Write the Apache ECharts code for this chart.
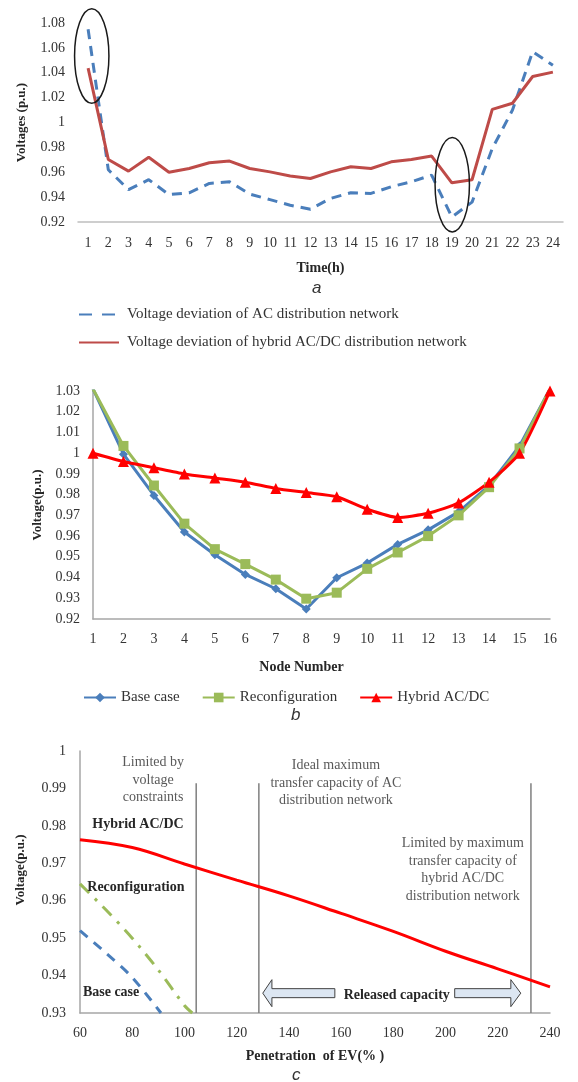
<!DOCTYPE html>
<html><head><meta charset="utf-8">
<script src="https://cdn.jsdelivr.net/npm/echarts@6/dist/echarts.min.js"></script>
<style>html,body{margin:0;padding:0;background:#fff}#c{width:578px;height:1082px}</style>
</head><body><div id="c"></div>
<script>
// ---------- Chart a ----------
const hours = ['1','2','3','4','5','6','7','8','9','10','11','12','13','14','15','16','17','18','19','20','21','22','23','24'];
const acDeviation = [1.075,0.962,0.946,0.954,0.942,0.9435,0.951,0.9523,0.9424,0.938,0.9335,0.9303,0.939,0.9435,0.943,0.9484,0.9523,0.9577,0.924,0.936,0.979,1.010,1.057,1.046];
const hybridDeviation = [1.0437,0.9703,0.9609,0.972,0.960,0.963,0.9676,0.969,0.963,0.9603,0.957,0.955,0.9603,0.9644,0.963,0.9684,0.9703,0.973,0.9515,0.954,1.0106,1.0155,1.037,1.0405];
const highlightIdx = [0, 18];
const highlightCenter = [1.0535, 0.950];
const highlightHalfHeight = [0.038, 0.038];
const highlightShift = [0.18, 0.02];

// ---------- Chart b ----------
const nodes = ['1','2','3','4','5','6','7','8','9','10','11','12','13','14','15','16'];
const baseCase = [1.031,0.9995,0.9796,0.962,0.951,0.9415,0.9346,0.9248,0.9399,0.947,0.956,0.963,0.9717,0.9844,1.0035,1.031];
const reconfiguration = [1.031,1.0035,0.9844,0.966,0.9537,0.9465,0.939,0.9298,0.9327,0.9442,0.9521,0.960,0.970,0.9836,1.0023,1.031];
const hybridB = [1.000,0.996,0.993,0.990,0.988,0.986,0.983,0.981,0.979,0.973,0.969,0.971,0.976,0.986,1.000,1.030];

// ---------- Chart c ----------
const hybridC = [[60,0.9763],[80,0.9742],[100,0.9698],[120,0.9655],[140,0.9613],[160,0.9566],[180,0.9518],[200,0.9465],[220,0.9418],[240,0.937]];
const reconfigC = [[60,0.9645],[70,0.9575],[80,0.9500],[90,0.9415],[100,0.932],[103,0.930]];
const baseC = [[60,0.952],[70,0.946],[80,0.9395],[91,0.930]];
const limitLinesX = [104.5, 128.5, 232.7];
const limitLineTop = 0.9914;
const noteText = ['Limited by\nvoltage\nconstraints','Ideal maximum\ntransfer capacity of AC\ndistribution network','Limited by maximum\ntransfer capacity of\nhybrid AC/DC\ndistribution network','Hybrid AC/DC','Reconfiguration','Base case','Released capacity'];
const noteX = [88, 158, 206.6, 82.2, 81.4, 71.9, 181.3];
const noteY = [0.9922, 0.9914, 0.9682, 0.9804, 0.9636, 0.9356, 0.9348];
const noteBold = [0,0,0,1,1,1,1];
const arrowTip = [130.0, 228.8];
const arrowHead = [133.5, 225.0];
const arrowTail = [157.6, 203.5];
const arrowY = [0.9353, 0.9353];

const SERIF = '"Liberation Serif", "Times New Roman", serif';
const fmt = v => String(+v.toFixed(2));
const lblColor = '#333333';

const chart = echarts.init(document.getElementById('c'), null, {renderer:'canvas'});

function axisNameStyle(size){ return {fontFamily:SERIF, fontWeight:'bold', fontSize:size, color:'#262626'}; }

const option = {
  animation:false,
  backgroundColor:'#fff',
  grid:[
    {left:78, top:23, width:485, height:199},
    {left:93, top:391, width:457, height:228},
    {left:80, top:751, width:470, height:262}
  ],
  xAxis:[
    {gridIndex:0, type:'category', data:hours, boundaryGap:true,
     axisLine:{lineStyle:{color:'#bfbfbf', width:1.5}}, axisTick:{show:false},
     axisLabel:{interval:0, margin:14, fontSize:14, fontFamily:SERIF, color:lblColor},
     name:'Time(h)', nameLocation:'middle', nameGap:39, nameTextStyle:axisNameStyle(14)},
    {gridIndex:1, type:'category', data:nodes, boundaryGap:false,
     axisLine:{lineStyle:{color:'#a6a6a6', width:1.5}}, axisTick:{show:false},
     axisLabel:{interval:0, margin:13, fontSize:14, fontFamily:SERIF, color:lblColor},
     name:'Node Number', nameLocation:'middle', nameGap:41,
     nameTextStyle:Object.assign(axisNameStyle(14), {padding:[0,40,0,0]})},
    {gridIndex:2, type:'value', min:60, max:240, interval:20,
     axisLine:{show:true, lineStyle:{color:'#a6a6a6', width:1.5}}, axisTick:{show:false}, splitLine:{show:false},
     axisLabel:{margin:13, fontSize:14, fontFamily:SERIF, color:lblColor},
     name:'Penetration  of EV(% )', nameLocation:'middle', nameGap:36, nameTextStyle:axisNameStyle(14)}
  ],
  yAxis:[
    {gridIndex:0, type:'value', min:0.92, max:1.08, interval:0.02,
     axisLine:{show:false}, axisTick:{show:false}, splitLine:{show:false},
     axisLabel:{margin:13, fontSize:14, fontFamily:SERIF, color:lblColor, formatter:fmt},
     name:'Voltages (p.u.)', nameLocation:'middle', nameGap:50, nameTextStyle:axisNameStyle(13)},
    {gridIndex:1, type:'value', min:0.92, max:1.03, interval:0.01,
     axisLine:{show:true, lineStyle:{color:'#a6a6a6', width:1.5}}, axisTick:{show:false}, splitLine:{show:false},
     axisLabel:{margin:13, fontSize:14, fontFamily:SERIF, color:lblColor, formatter:fmt},
     name:'Voltage(p.u.)', nameLocation:'middle', nameGap:48, nameTextStyle:axisNameStyle(13)},
    {gridIndex:2, type:'value', min:0.93, max:1, interval:0.01,
     axisLine:{show:true, lineStyle:{color:'#a6a6a6', width:1.5}}, axisTick:{show:false}, splitLine:{show:false},
     axisLabel:{margin:14, fontSize:14, fontFamily:SERIF, color:lblColor, formatter:fmt},
     name:'Voltage(p.u.)', nameLocation:'middle', nameGap:53,
     nameTextStyle:Object.assign(axisNameStyle(13), {padding:[0,0,0,24]})}
  ],
  legend:[
    {orient:'vertical', left:73, top:302, itemWidth:40, itemHeight:14, itemGap:13,
     itemStyle:{opacity:0},
     data:[
       {name:'Voltage deviation of AC distribution network', lineStyle:{type:[13,10]}},
       {name:'Voltage deviation of hybrid AC/DC distribution network', lineStyle:{type:'solid'}}
     ],
     textStyle:{fontFamily:SERIF, fontSize:15, color:lblColor, padding:[0,0,0,3]}},
    {orient:'horizontal', left:78, top:685, itemWidth:32, itemHeight:12, itemGap:22,
     data:['Base case','Reconfiguration','Hybrid AC/DC'],
     textStyle:{fontFamily:SERIF, fontSize:15, color:lblColor}}
  ],
  graphic:[
    {type:'text', left:312, top:280, style:{text:'a', font:'italic 17px "Liberation Sans", Arial, sans-serif', fill:'#333'}},
    {type:'text', left:291, top:707, style:{text:'b', font:'italic 17px "Liberation Sans", Arial, sans-serif', fill:'#333'}},
    {type:'text', left:292, top:1067, style:{text:'c', font:'italic 17px "Liberation Sans", Arial, sans-serif', fill:'#333'}}
  ],
  series:[
    // chart a
    {name:'Voltage deviation of AC distribution network', type:'line', xAxisIndex:0, yAxisIndex:0, data:acDeviation,
     symbol:'none', lineStyle:{color:'#4a7ebb', width:3, type:[10,7]}, itemStyle:{color:'#4a7ebb'}},
    {name:'Voltage deviation of hybrid AC/DC distribution network', type:'line', xAxisIndex:0, yAxisIndex:0, data:hybridDeviation,
     symbol:'none', lineStyle:{color:'#be4b48', width:3}, itemStyle:{color:'#be4b48'}},
    {type:'custom', xAxisIndex:0, yAxisIndex:0, silent:true, z:5,
     data:highlightIdx.map((d,i)=>[d, highlightCenter[i], highlightHalfHeight[i], highlightShift[i]]),
     renderItem:(p, api)=>{
       const c = api.coord([api.value(0), api.value(1)]);
       const ry = api.size([0, api.value(2)])[1];
       const band = api.size([1, 0])[0];
       const rx = band * 0.85;
       return {type:'ellipse', shape:{cx:c[0] + band*api.value(3), cy:c[1], rx:rx, ry:ry}, style:{fill:'none', stroke:'#1a1a1a', lineWidth:1.5}};
     }},
    // chart b
    {name:'Base case', type:'line', xAxisIndex:1, yAxisIndex:1, data:baseCase,
     symbol:'diamond', symbolSize:9, lineStyle:{color:'#4a7ebb', width:3}, itemStyle:{color:'#4a7ebb'}},
    {name:'Reconfiguration', type:'line', xAxisIndex:1, yAxisIndex:1, data:reconfiguration,
     symbol:'rect', symbolSize:10, lineStyle:{color:'#9bbb59', width:3}, itemStyle:{color:'#9bbb59'}},
    {name:'Hybrid AC/DC', type:'line', xAxisIndex:1, yAxisIndex:1, data:hybridB, smooth:0.2,
     symbol:'triangle', symbolSize:11, lineStyle:{color:'#ff0000', width:3}, itemStyle:{color:'#ff0000'}},
    // chart c
    {type:'custom', xAxisIndex:2, yAxisIndex:2, silent:true, z:1,
     data:limitLinesX.map(x=>[x, limitLineTop]),
     renderItem:(p, api)=>{
       const a = api.coord([api.value(0), 0.93]);
       const b = api.coord([api.value(0), api.value(1)]);
       return {type:'line', shape:{x1:a[0], y1:a[1], x2:b[0], y2:b[1]}, style:{stroke:'#7f7f7f', lineWidth:1.5}};
     }},
    {type:'line', xAxisIndex:2, yAxisIndex:2, data:hybridC, smooth:0.4, symbol:'none',
     lineStyle:{color:'#ff0000', width:3}, z:3},
    {type:'line', xAxisIndex:2, yAxisIndex:2, data:reconfigC, smooth:0.3, symbol:'none',
     lineStyle:{color:'#9bbb59', width:3, type:[13,8,3,8]}, z:3},
    {type:'line', xAxisIndex:2, yAxisIndex:2, data:baseC, smooth:0.3, symbol:'none',
     lineStyle:{color:'#4a7ebb', width:3, type:[10,8]}, z:3},
    {type:'custom', xAxisIndex:2, yAxisIndex:2, silent:true, z:4,
     data:arrowTip.map((t,i)=>[t, arrowY[i], arrowHead[i], arrowTail[i]]),
     renderItem:(p, api)=>{
       const tip = api.coord([api.value(0), api.value(1)]);
       const hx = api.coord([api.value(2), api.value(1)])[0];
       const tx = api.coord([api.value(3), api.value(1)])[0];
       const cy = tip[1];
       return {type:'polygon', shape:{points:[[tip[0],cy],[hx,cy-13.5],[hx,cy-4.5],[tx,cy-4.5],[tx,cy+4.5],[hx,cy+4.5],[hx,cy+13.5]]},
         style:{fill:'#dce6f2', stroke:'#404040', lineWidth:1}};
     }},
    {type:'custom', xAxisIndex:2, yAxisIndex:2, silent:true, z:5,
     data:noteX.map((x,i)=>[x, noteY[i], i]),
     renderItem:(p, api)=>{
       const c = api.coord([api.value(0), api.value(1)]);
       const i = api.value(2);
       const bold = noteBold[i];
       return {type:'text', x:c[0], y:c[1], style:{text:noteText[i],
         font:(bold?'bold ':'') + '14px ' + SERIF, fill: bold ? '#262626' : '#595959',
         align:'center', verticalAlign:'middle', lineHeight:17.5}};
     }}
  ]
};
chart.setOption(option);
</script>
</body></html>
